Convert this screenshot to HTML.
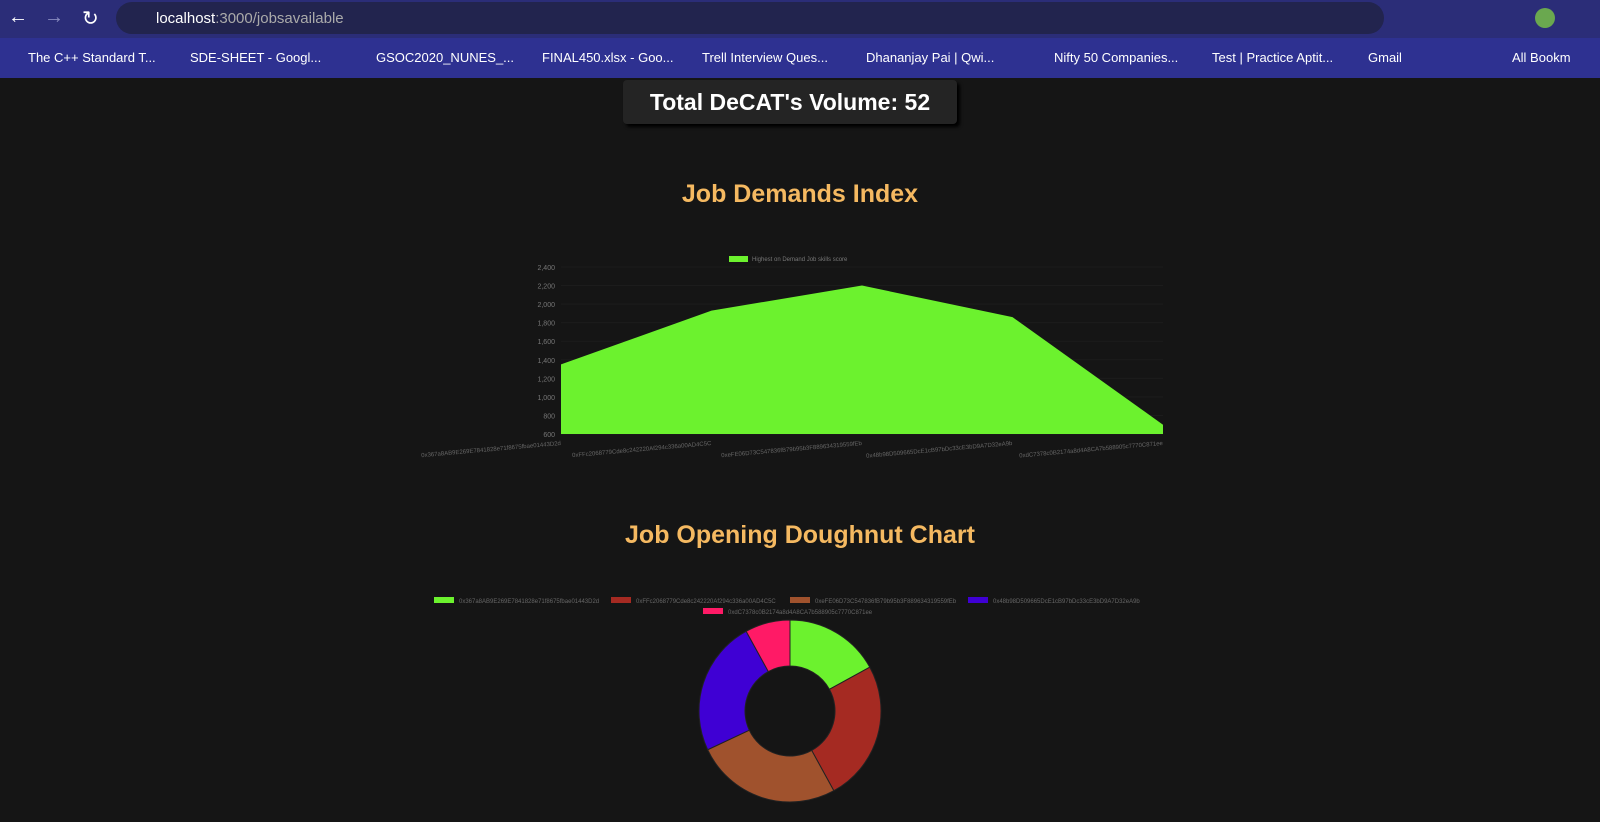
<!DOCTYPE html>
<html><head><meta charset="utf-8"><style>
body{margin:0;width:1600px;height:822px;overflow:hidden;background:#151515;font-family:"Liberation Sans",sans-serif;position:relative}
.top{position:absolute;left:0;top:0;width:1600px;height:38px;background:#2b2d78}
.url{position:absolute;left:116px;top:2px;width:1268px;height:32px;border-radius:16px;background:#22244e}
.bm{position:absolute;left:0;top:38px;width:1600px;height:40px;background:#2e3191;color:#fff;font-size:13px}
.bm span{position:absolute;top:12px}
.tot{position:absolute;left:623px;top:80px;width:334px;height:44px;background:#242424;border-radius:4px;box-shadow:3px 3px 3px #000;color:#fff;font-weight:bold;font-size:23px;text-align:center;line-height:44px}
h2{position:absolute;margin:0;width:1600px;text-align:center;color:#f5b961;font-size:25px;font-weight:bold}
</style></head><body>
<div class="top">
<span style="position:absolute;left:8px;top:6px;color:#fff;font-size:20px">←</span>
<span style="position:absolute;left:44px;top:6px;color:#8a8cc0;font-size:20px">→</span>
<span style="position:absolute;left:82px;top:6px;color:#fff;font-size:20px">↻</span>
<div class="url"><span style="position:absolute;left:40px;top:8px;color:#fff;font-size:15px">localhost<span style="color:#aaa">:3000/jobsavailable</span></span></div>
<div style="position:absolute;left:1535px;top:8px;width:20px;height:20px;border-radius:10px;background:#6aa84f"></div>
</div>
<div class="bm">
<span style="left:28px">The C++ Standard T...</span><span style="left:190px">SDE-SHEET - Googl...</span><span style="left:376px">GSOC2020_NUNES_...</span><span style="left:542px">FINAL450.xlsx - Goo...</span><span style="left:702px">Trell Interview Ques...</span><span style="left:866px">Dhananjay Pai | Qwi...</span><span style="left:1054px">Nifty 50 Companies...</span><span style="left:1212px">Test | Practice Aptit...</span><span style="left:1368px">Gmail</span><span style="left:1512px">All Bookm</span>
</div>
<div class="tot">Total DeCAT's Volume: 52</div>
<h2 style="top:180px">Job Demands Index</h2>
<h2 style="top:521px">Job Opening Doughnut Chart</h2>
<svg id="c" width="1600" height="822" style="position:absolute;left:0;top:0"></svg>
<script>
const labels=["0x367a8AB9E269E7841828e71f8675fbae01443D2d","0xFFc2068779Cde8c242220Af294c336a00AD4C5C","0xeFE06D73C547836fB79b95b3F889634319559fEb","0x48b98D509665DcE1cB97bDc33cE3bD9A7D32eA9b","0xdC7378c0B2174a8d4A8CA7b588905c7770C871ee"];
const scores=[1350,1930,2200,1860,700];
const yTicks=[600,800,1000,1200,1400,1600,1800,2000,2200,2400];
const shares=[17,25,26,24,8];
const colors=["#6cf22e","#a52a22","#a0522d","#3f00d4","#ff1a66"];
const svg=document.getElementById('c');const NS="http://www.w3.org/2000/svg";
function el(t,a,p){const e=document.createElementNS(NS,t);for(const k in a)e.setAttribute(k,a[k]);(p||svg).appendChild(e);return e;}
const x0=561,x1=1163,yTop=267,yBot=434;
const xs=i=>x0+i*(x1-x0)/(labels.length-1);
const ys=v=>yBot-(v-600)/(2400-600)*(yBot-yTop);
yTicks.forEach(t=>{const l=el('line',{x1:x0,x2:x1,y1:ys(t),y2:ys(t),stroke:'#1c1c1c'});


const tx=el('text',{x:x0-6,y:ys(t)+3,'text-anchor':'end','font-size':7,fill:'#777'});tx.textContent=t.toLocaleString('en-US');

});
labels.forEach((lb,i)=>{const tx=el('text',{x:xs(i),y:yBot+11,'text-anchor':'end','font-size':6,fill:'#666',transform:`rotate(-5 ${xs(i)} ${yBot+11})`});tx.textContent=lb;

});
let d=`M${x0} ${yBot}`;scores.forEach((v,i)=>d+=` L${xs(i)} ${ys(v)}`);d+=` L${x1} ${yBot}Z`;
const area=el('path',{d:d,fill:'#6cf22e'});


const lg=el('rect',{x:729,y:256,width:19,height:6,fill:'#6cf22e'});


const lt=el('text',{x:752,y:261,'font-size':6,fill:'#777'});lt.textContent='Highest on Demand Job skills score';


const lx=[434,611,790,968,703],ly=[601,601,601,601,612];
labels.forEach((lb,i)=>{const r=el('rect',{x:lx[i],y:ly[i]-4,width:20,height:6,fill:colors[i]});


const t=el('text',{x:lx[i]+25,y:ly[i]+2,'font-size':6,fill:'#666'});t.textContent=lb;

});
const cx=790,cy=711,R=91,r=45;const tot=shares.reduce((a,b)=>a+b,0);let a=0;
shares.forEach((s,i)=>{const a2=a+s/tot*2*Math.PI;const p=(ang,rad)=>[cx+rad*Math.sin(ang),cy-rad*Math.cos(ang)];
const [ax,ay]=p(a,R),[bx,by]=p(a2,R),[cx2,cy2]=p(a2,r),[dx,dy]=p(a,r);const lg=(a2-a)>Math.PI?1:0;
const sl=el('path',{d:`M${ax} ${ay} A${R} ${R} 0 ${lg} 1 ${bx} ${by} L${cx2} ${cy2} A${r} ${r} 0 ${lg} 0 ${dx} ${dy}Z`,fill:colors[i],stroke:'#222','stroke-width':1});

a=a2;});
</script>
</body></html>
